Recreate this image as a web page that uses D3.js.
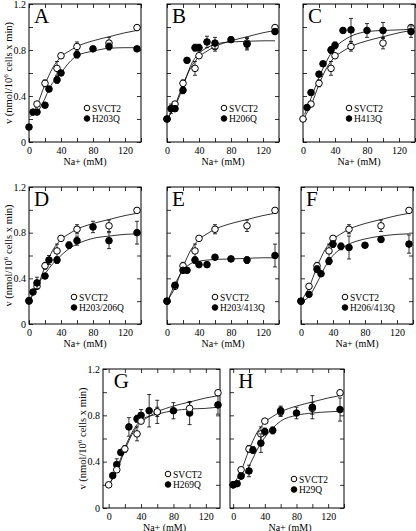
<!DOCTYPE html>
<html><head><meta charset="utf-8">
<script src="https://cdn.jsdelivr.net/npm/d3@7"></script>
<style>
body{margin:0;background:#fff}
svg text{font-family:"Liberation Serif","Times New Roman",serif;fill:#000}
</style>
</head><body><svg id="c" width="416" height="531"></svg>
<script>
// ---------- DATA ----------
const panelLetters = ['A','B','C','D','E','F','G','H'];
const mutantNames = ['H203Q','H206Q','H413Q','H203/206Q','H203/413Q','H206/413Q','H269Q','H29Q'];
const controlName = 'SVCT2';
const xTickValues = [0,20,40,60,80,100,120,140];
const xTickLabels = [0,40,80,120];
const yTickValues = [0,0.2,0.4,0.6,0.8,1.0,1.2];
const yTickLabels = ['0','0.4','0.8','1.2'];

// SVCT2 (open circles), same control in every panel
const svctX   = [0,   10,  20,  35,  40,  60,  100, 135];
const svctY   = [0.20,0.33,0.51,0.64,0.75,0.83,0.86,0.995];
const svctErr = [0,   0.02,0.03,0.06,0.02,0.04,0.05,0.02];
const svctFitX = [2,   10,  20,  30,  40,  50,  60,  80,  100,  120, 135];
const svctFitY = [0.22,0.32,0.50,0.65,0.74,0.79,0.83,0.88,0.915,0.95,0.97];

// A: H203Q
const aX = [0,   5,   10,  20,  25,  35,  40,  60,  80,  100, 135];
const aY = [0.13,0.26,0.26,0.32,0.46,0.54,0.60,0.76,0.81,0.83,0.81];
const aE = [0,   0,   0,   0.02,0.02,0.03,0.02,0.03,0.02,0.03,0.02];
const aFx = [9,   15,  20,  25,  40,  50,  60,  80,  100,  120, 135];
const aFy = [0.24,0.31,0.38,0.46,0.60,0.69,0.75,0.79,0.815,0.82,0.82];
// B: H206Q
const bX = [0,   5,   10,  20,  25,  35,  40,  50,  60,  80,  100, 135];
const bY = [0.20,0.29,0.29,0.45,0.71,0.82,0.82,0.87,0.86,0.89,0.85,0.96];
const bE = [0,   0.04,0.02,0.03,0.02,0.03,0.03,0.05,0.05,0.02,0.05,0.02];
const bFx = [2,   10,  20,  25,  30,  40,  50,  60,  80,  100,  120, 135];
const bFy = [0.22,0.31,0.48,0.58,0.67,0.77,0.82,0.85,0.87,0.875,0.88,0.88];
// C: H413Q
const cX = [5,   10,  20,  25,  35,  40,  50,  60,   80,  100, 135];
const cY = [0.30,0.43,0.59,0.68,0.80,0.84,0.97,0.975,0.97,0.97,0.96];
const cE = [0.02,0.02,0.02,0.02,0.03,0.03,0.02,0.10, 0.06,0.07,0.05];
const cFx = [2,   10,  20,  30,  40,  50,  60,  80,  100, 120,  135];
const cFy = [0.24,0.38,0.56,0.71,0.82,0.88,0.92,0.96,0.97,0.975,0.98];
// D: H203/206Q
const dX = [0,    5,   10,  20,  25,  35,  50,  60,  80,  100, 135];
const dY = [0.205,0.28,0.36,0.42,0.56,0.56,0.69,0.73,0.85,0.73,0.80];
const dE = [0,    0.02,0.05,0.02,0.04,0.03,0.03,0.04,0.05,0.07,0.10];
const dFx = [2,   10,  20,  30,  40,  50,  60,  80,  100, 120,  135];
const dFy = [0.23,0.33,0.44,0.53,0.60,0.66,0.70,0.75,0.77,0.785,0.79];
// E: H203/413Q
const eX = [0,   10,  20,  25,  35,  40,  50,  60,   80,  100, 135];
const eY = [0.20,0.34,0.47,0.47,0.56,0.52,0.52,0.585,0.57,0.56,0.60];
const eE = [0,   0.02,0.02,0.02,0.03,0.02,0.02,0.02, 0.02,0.03,0.10];
const eFx = [2,   10,  20,  30,  40,  50,  60,   80,  100,  120, 135];
const eFy = [0.22,0.35,0.47,0.53,0.55,0.56,0.565,0.57,0.575,0.58,0.58];
// F: H206/413Q
const fX = [0,   10,  20,  25,  35,  40,  50,  60,  80,  100, 135];
const fY = [0.20,0.26,0.48,0.44,0.55,0.70,0.68,0.67,0.69,0.74,0.70];
const fE = [0,   0.02,0.03,0.02,0.03,0.03,0.03,0.10,0.02,0.02,0.08];
const fFx = [0,   10,  20,  30,  40,  50,  60,  80,   100, 120,  135];
const fFy = [0.20,0.24,0.36,0.50,0.60,0.66,0.70,0.745,0.77,0.785,0.79];
// G: H269Q
const gX = [5,   10,   15,  25,  35,  40,  50,  60,  80,  100, 135];
const gY = [0.28,0.375,0.48,0.70,0.77,0.80,0.84,0.83,0.84,0.82,0.89];
const gE = [0.02,0.05, 0.02,0.08,0.03,0.05,0.14,0.10,0.07,0.10,0.08];
const gFx = [0,   5,   10,  15,  25,  35,  40,  60,  80,  100,  120, 135];
const gFy = [0.20,0.26,0.34,0.43,0.60,0.72,0.76,0.81,0.84,0.855,0.86,0.87];
// H: H29Q
const hX = [0,   5,   10,   20,  25,  35,  40,  50,  60,  80,  100, 135];
const hY = [0.20,0.21,0.275,0.32,0.50,0.56,0.66,0.67,0.84,0.82,0.87,0.85];
const hE = [0,   0,   0.02, 0.05,0.03,0.08,0.03,0.03,0.04,0.05,0.10,0.10];
const hFx = [5,   10,  20,  25,  30,  40,  50,  60,  80,  100, 120, 135];
const hFy = [0.22,0.25,0.36,0.43,0.50,0.61,0.69,0.75,0.80,0.82,0.83,0.835];

const mutData = [[aX,aY,aE,aFx,aFy],[bX,bY,bE,bFx,bFy],[cX,cY,cE,cFx,cFy],[dX,dY,dE,dFx,dFy],
                 [eX,eY,eE,eFx,eFy],[fX,fY,fE,fFx,fFy],[gX,gY,gE,gFx,gFy],[hX,hY,hE,hFx,hFy]];

// ---------- LAYOUT ----------
const layout = [
  {x0:29,  x1:141, y0:4,   y1:142, dom:[0,140],   lg:[58,104], ylab:8,  skipOpen0:true},
  {x0:167, x1:279, y0:4,   y1:142, dom:[0,140],   lg:[57,104]},
  {x0:303, x1:415, y0:4,   y1:142, dom:[0,140],   lg:[46,104]},
  {x0:29,  x1:141, y0:187, y1:324, dom:[0,140],   lg:[45,110], ylab:8},
  {x0:167, x1:279, y0:187, y1:324, dom:[0,140],   lg:[48,110]},
  {x0:301, x1:413, y0:187, y1:324, dom:[0,140],   lg:[44,110]},
  {x0:103, x1:220, y0:369, y1:508, dom:[-7,137.5],lg:[65,105], ylab:82, openTop:true},
  {x0:230, x1:344, y0:369, y1:508, dom:[-4,140],  lg:[64,110]}
];

const svg = d3.select('#c');
const line = (xs, ys) => d3.line().curve(d3.curveMonotoneX).x(d=>xs(d[0])).y(d=>ys(d[1]));

layout.forEach((L, i) => {
  const g = svg.append('g');
  const xs = d3.scaleLinear().domain(L.dom).range([L.x0, L.x1]);
  const ys = d3.scaleLinear().domain([0,1.2]).range([L.y1, L.y0]);
  const xt = xTickValues.filter(v => v >= L.dom[0] && v <= L.dom[1]);
  const fmtX = v => xTickLabels.includes(v) ? String(v) : '';
  const fmtY = v => { const s = d3.format('.1f')(v).replace(/^0\.0$/,'0'); const t = (v===0)?'0':s; return yTickLabels.includes(t) ? t : ''; };

  const tl = v => (xTickLabels.includes(v) ? -4.5 : -3);
  // axes
  const ax = [
    g.append('g').attr('transform',`translate(0,${L.y1})`).call(d3.axisBottom(xs).tickValues(xt).tickFormat(fmtX).tickSize(-4).tickPadding(5)),
    g.append('g').attr('transform',`translate(0,${L.y0})`).call(d3.axisTop(xs).tickValues(xt).tickFormat('').tickSize(-4)),
    g.append('g').attr('transform',`translate(${L.x0},0)`).call(d3.axisLeft(ys).tickValues(yTickValues).tickFormat(L.ylab ? fmtY : '').tickSize(-4).tickPadding(3)),
    g.append('g').attr('transform',`translate(${L.x1},0)`).call(d3.axisRight(ys).tickValues(yTickValues).tickFormat('').tickSize(-4))
  ];
  ax.forEach(a => {
    a.select('.domain').remove();
    a.selectAll('line').attr('stroke','#000').attr('stroke-width',0.8);
    a.selectAll('text').attr('font-size',10).style('font-family','"Liberation Serif",serif');
  });
  g.append('rect').attr('x',L.x0).attr('y',L.y0).attr('width',L.x1-L.x0).attr('height',L.y1-L.y0)
    .attr('fill','none').attr('stroke','#000').attr('stroke-width',1);

  // x title
  g.append('text').attr('x',(L.x0+L.x1)/2 + (L.dom[0]<0 ? 3 : 0)).attr('y',L.y1+22.5).attr('text-anchor','middle')
    .attr('font-size',10).text('Na+ (mM)');
  // y title
  if (L.ylab !== undefined) {
    const t = g.append('text').attr('transform',`translate(${L.ylab},${(L.y0+L.y1)/2}) rotate(-90)`)
      .attr('text-anchor','middle').attr('dy','0.35em').attr('font-size',10.5);
    t.append('tspan').text('v (nmol/10');
    t.append('tspan').attr('font-size',7).attr('dy',-4).text('6');
    t.append('tspan').attr('dy',4).text(' cells x min)');
  }
  // panel letter
  g.append('text').attr('x', L.dom[0]<0 ? xs(0)+5 : L.x0+5).attr('y',L.y0+19).attr('font-size',21).text(panelLetters[i]);

  const [mx,my,me,mfx,mfy] = mutData[i];
  // fits
  g.append('path').datum(svctFitX.map((x,k)=>[x,svctFitY[k]])).attr('d',line(xs,ys))
    .attr('fill','none').attr('stroke','#000').attr('stroke-width',0.8);
  g.append('path').datum(mfx.map((x,k)=>[x,mfy[k]])).attr('d',line(xs,ys))
    .attr('fill','none').attr('stroke','#000').attr('stroke-width',0.8);

  const openPts = svctX.map((x,k)=>({x, y:svctY[k], e:svctErr[k]})).filter(p => !(L.skipOpen0 && p.x===0));
  const fillPts = mx.map((x,k)=>({x, y:my[k], e:me[k]}));

  const drawSet = (pts, fill) => {
    const s = g.append('g');
    pts.filter(p=>p.e>0).forEach(p => {
      const cx = xs(p.x), yt = ys(p.y+p.e), yb = ys(p.y-p.e);
      s.append('line').attr('x1',cx).attr('x2',cx).attr('y1',yt).attr('y2',yb).attr('stroke','#000').attr('stroke-width',0.8);
      s.append('line').attr('x1',cx-2).attr('x2',cx+2).attr('y1',yt).attr('y2',yt).attr('stroke','#000').attr('stroke-width',0.8);
      s.append('line').attr('x1',cx-2).attr('x2',cx+2).attr('y1',yb).attr('y2',yb).attr('stroke','#000').attr('stroke-width',0.8);
    });
    s.selectAll('circle').data(pts).join('circle')
      .attr('cx',p=>xs(p.x)).attr('cy',p=>ys(p.y)).attr('r',3.3)
      .attr('fill',fill).attr('stroke','#000').attr('stroke-width',1);
  };
  if (L.openTop) { drawSet(fillPts,'#000'); drawSet(openPts,'#fff'); }
  else { drawSet(openPts,'#fff'); drawSet(fillPts,'#000'); }

  // legend
  const lx = L.x0 + L.lg[0], ly = L.y0 + L.lg[1];
  [[controlName,'#fff'],[mutantNames[i],'#000']].forEach(([name,fill],k) => {
    const yy = ly + k*10.5;
    g.append('circle').attr('cx',lx).attr('cy',yy).attr('r',2.8).attr('fill',fill).attr('stroke','#000').attr('stroke-width',1);
    g.append('text').attr('x',lx+5).attr('y',yy+3.5).attr('font-size',9.5).text(name);
  });
});
</script></body></html>
